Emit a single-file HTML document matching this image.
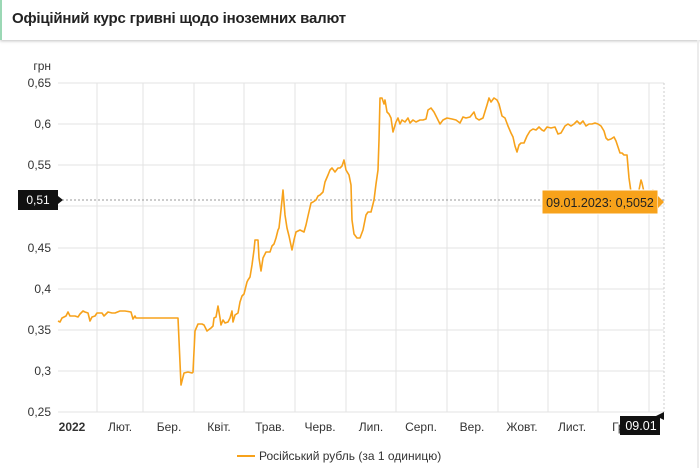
<!DOCTYPE html>
<html><head><meta charset="utf-8"><style>
body{margin:0;width:700px;height:468px;background:#fff;font-family:"Liberation Sans",sans-serif;overflow:hidden;position:relative}
.hdr{position:absolute;left:0;top:0;width:698px;height:40px;border-left:2px solid #9bd8b5;box-shadow:0 1px 3px rgba(0,0,0,.25);background:#fff}
.hdr span{position:absolute;left:10px;top:10px;font-size:15px;font-weight:bold;color:#222;letter-spacing:-0.2px}
</style></head><body>
<div class="hdr"><span>Офіційний курс гривні щодо іноземних валют</span></div>
<svg width="700" height="468" style="position:absolute;left:0;top:0" font-family="Liberation Sans, sans-serif">
<g stroke="#e3e3e3" stroke-width="1">
<line x1="58" x2="664" y1="83" y2="83"/><line x1="58" x2="664" y1="124" y2="124"/><line x1="58" x2="664" y1="165" y2="165"/><line x1="58" x2="664" y1="206" y2="206"/><line x1="58" x2="664" y1="248" y2="248"/><line x1="58" x2="664" y1="289" y2="289"/><line x1="58" x2="664" y1="330" y2="330"/><line x1="58" x2="664" y1="371" y2="371"/><line x1="58" x2="664" y1="412" y2="412"/>
<line x1="97" x2="97" y1="83" y2="412"/><line x1="143" x2="143" y1="83" y2="412"/><line x1="194" x2="194" y1="83" y2="412"/><line x1="244" x2="244" y1="83" y2="412"/><line x1="295" x2="295" y1="83" y2="412"/><line x1="346" x2="346" y1="83" y2="412"/><line x1="396" x2="396" y1="83" y2="412"/><line x1="447" x2="447" y1="83" y2="412"/><line x1="498" x2="498" y1="83" y2="412"/><line x1="548" x2="548" y1="83" y2="412"/><line x1="598" x2="598" y1="83" y2="412"/><line x1="649" x2="649" y1="83" y2="412"/>
</g>
<line x1="664" x2="664" y1="83" y2="412" stroke="#ccc" stroke-dasharray="2,2"/>
<g font-size="12" fill="#333" text-anchor="end">
<text x="51" y="70">грн</text>
<text x="51" y="87">0,65</text><text x="51" y="128">0,6</text><text x="51" y="169">0,55</text><text x="51" y="252">0,45</text><text x="51" y="293">0,4</text><text x="51" y="334">0,35</text><text x="51" y="375">0,3</text><text x="51" y="416">0,25</text>
</g>
<g font-size="12" fill="#333" text-anchor="middle">
<text x="72" y="431" font-weight="bold">2022</text><text x="120" y="431">Лют.</text><text x="169" y="431">Бер.</text><text x="219" y="431">Квіт.</text><text x="270" y="431">Трав.</text><text x="320" y="431">Черв.</text><text x="371" y="431">Лип.</text><text x="421" y="431">Серп.</text><text x="472" y="431">Вер.</text><text x="522" y="431">Жовт.</text><text x="572" y="431">Лист.</text><text x="620" y="431">Гр.</text>
</g>
<line x1="58" x2="664" y1="200" y2="200" stroke="#999" stroke-dasharray="2,2"/>
<polyline fill="none" stroke="#f7a21b" stroke-width="1.6" stroke-linejoin="round" points="58,321 60,322 62,318 66,316 68,312 70,316 75,316 78,317 80,314 83,311 85,312 88,313 90,321 92,317 95,316 97,313 102,313 104,316 108,312 112,313 115,313 120,311 125,311 131,312 133,319 135,316 136,318 178,318 181,385 184,373 188,372 192,373 193,372 195,331 198,324 202,324 204,325 207,331 211,328 213,326 214,318 216,317 218,306 220,318 221,325 223,320 225,323 228,322 230,318 232,311 233,322 235,315 238,313 240,302 242,296 244,294 247,282 248,280 250,277 252,265 254,250 255,240 258,240 259,258 261,271 263,258 266,252 268,252 270,252 272,246 274,244 276,238 278,230 279,228 281,210 283,190 285,215 287,228 289,236 292,250 294,240 296,232 300,230 304,232 306,225 308,216 311,203 313,202 316,200 318,196 320,195 323,192 325,182 328,175 330,170 332,168 335,172 338,168 340,168 342,166 344,160 346,170 349,175 351,185 352,220 354,234 357,238 360,238 363,230 366,215 368,212 371,212 374,200 376,184 378,170 379,140 380,98 382,98 384,104 385,100 387,112 389,114 391,118 393,132 396,122 398,118 400,124 402,120 405,122 408,118 410,123 413,120 416,122 420,120 423,120 426,119 428,110 431,108 434,112 437,118 440,124 443,120 447,118 452,119 456,120 460,123 463,117 466,118 470,117 474,112 476,118 479,120 483,118 487,105 489,98 491,102 494,98 497,100 499,104 502,116 505,118 508,126 511,133 513,137 515,146 517,152 519,145 521,143 524,143 527,136 530,131 533,129 536,130 539,127 542,130 544,131 547,127 551,128 555,127 558,134 561,133 565,126 568,124 571,126 574,124 577,121 580,124 583,121 586,126 589,124 592,124 595,123 598,124 601,126 604,131 606,138 608,140 611,139 614,137 616,141 618,147 620,153 622,153 624,155 627,155 629,178 631,192 633,198 635,202 637,196 639,190 641,180 642,183 644,192 646,198 648,196 650,198 653,190 656,200"/>
<path d="M18 190H58V210H18Z" fill="#111"/>
<path d="M58 196L63 200L58 204Z" fill="#111"/>
<text x="38" y="204" font-size="12" fill="#fff" text-anchor="middle">0,51</text>
<rect x="542" y="190" width="116" height="24" fill="#f7a21b" stroke="#fff"/>
<path d="M658 196L664 202L658 208Z" fill="#f7a21b"/>
<text x="600" y="207" font-size="12.5" fill="#222" text-anchor="middle">09.01.2023: 0,5052</text>
<path d="M620 416H660V435H620Z" fill="#111"/>
<path d="M656 416L664 412L664 420Z" fill="#111"/>
<text x="641" y="430" font-size="12.5" fill="#fff" text-anchor="middle">09.01</text>
<line x1="237" x2="255" y1="456" y2="456" stroke="#f7a21b" stroke-width="2"/>
<text x="259" y="460" font-size="12" fill="#333">Російський рубль (за 1 одиницю)</text>
<line x1="698" x2="698" y1="40" y2="468" stroke="#ececec" stroke-width="2"/>
</svg>
</body></html>
